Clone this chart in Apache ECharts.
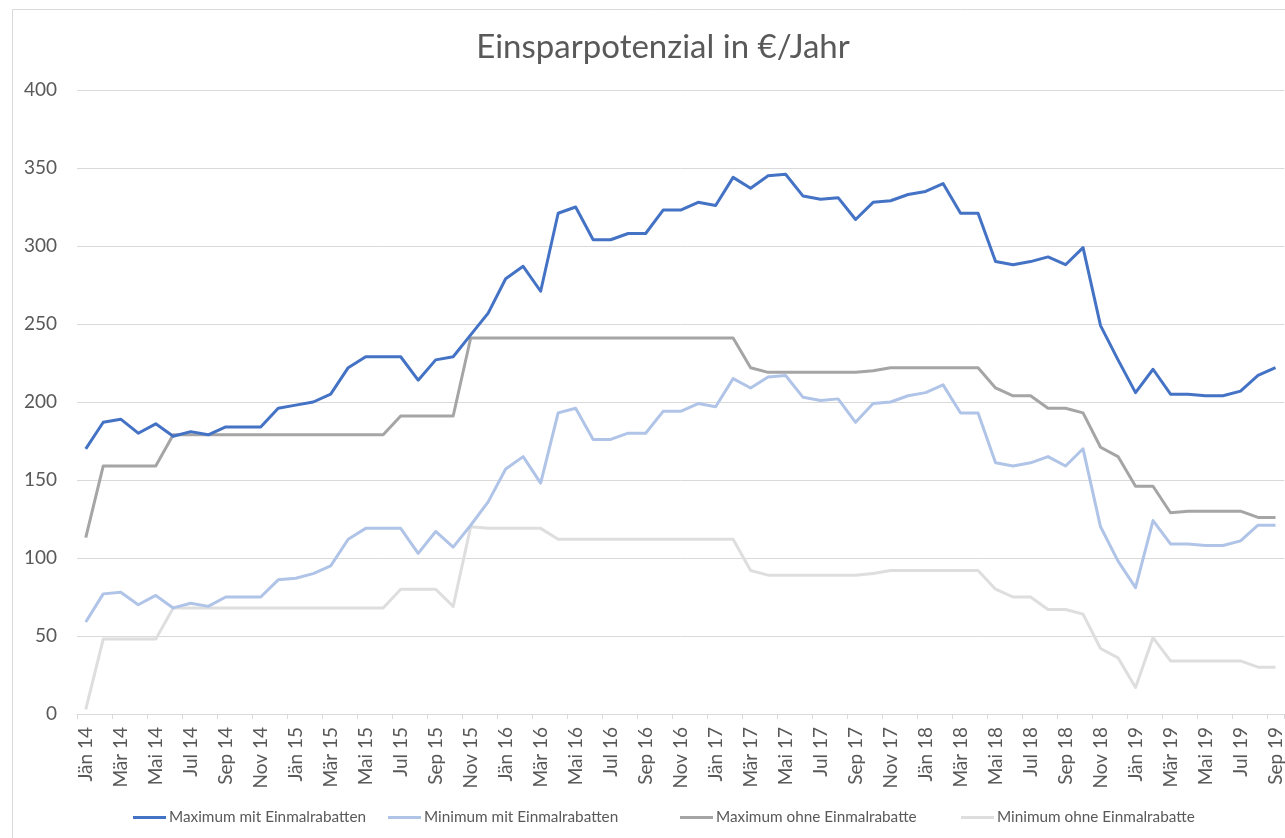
<!DOCTYPE html>
<html>
<head>
<meta charset="utf-8">
<script src="https://cdn.jsdelivr.net/npm/echarts@6/dist/echarts.min.js"></script>
<style>
  html, body { margin: 0; padding: 0; background: #fff; }
  #main { width: 1285px; height: 838px; }
</style>
</head>
<body>
<div id="main"></div>
<script>
// Monate Jän 14 .. Sep 19
var monthNames = ['Jän', 'Feb', 'Mär', 'Apr', 'Mai', 'Jun', 'Jul', 'Aug', 'Sep', 'Okt', 'Nov', 'Dez'];
var years = ['14', '15', '16', '17', '18', '19'];
var categories = [];
for (var y = 0; y < years.length; y++) {
    for (var m = 0; m < 12; m++) {
        if (y === 5 && m > 8) break;
        categories.push(monthNames[m] + ' ' + years[y]);
    }
}

var maxMit = [170, 187, 189, 180, 186, 178, 181, 179, 184, 184, 184, 196,
              198, 200, 205, 222, 229, 229, 229, 214, 227, 229, 243, 257,
              279, 287, 271, 321, 325, 304, 304, 308, 308, 323, 323, 328,
              326, 344, 337, 345, 346, 332, 330, 331, 317, 328, 329, 333,
              335, 340, 321, 321, 290, 288, 290, 293, 288, 299, 249, 227,
              206, 221, 205, 205, 204, 204, 207, 217, 222];

var minMit = [59, 77, 78, 70, 76, 68, 71, 69, 75, 75, 75, 86,
              87, 90, 95, 112, 119, 119, 119, 103, 117, 107, 121, 136,
              157, 165, 148, 193, 196, 176, 176, 180, 180, 194, 194, 199,
              197, 215, 209, 216, 217, 203, 201, 202, 187, 199, 200, 204,
              206, 211, 193, 193, 161, 159, 161, 165, 159, 170, 120, 98,
              81, 124, 109, 109, 108, 108, 111, 121, 121];

var maxOhne = [113, 159, 159, 159, 159, 179, 179, 179, 179, 179, 179, 179,
               179, 179, 179, 179, 179, 179, 191, 191, 191, 191, 241, 241,
               241, 241, 241, 241, 241, 241, 241, 241, 241, 241, 241, 241,
               241, 241, 222, 219, 219, 219, 219, 219, 219, 220, 222, 222,
               222, 222, 222, 222, 209, 204, 204, 196, 196, 193, 171, 165,
               146, 146, 129, 130, 130, 130, 130, 126, 126];

var minOhne = [3, 48, 48, 48, 48, 68, 68, 68, 68, 68, 68, 68,
               68, 68, 68, 68, 68, 68, 80, 80, 80, 69, 120, 119,
               119, 119, 119, 112, 112, 112, 112, 112, 112, 112, 112, 112,
               112, 112, 92, 89, 89, 89, 89, 89, 89, 90, 92, 92,
               92, 92, 92, 92, 80, 75, 75, 67, 67, 64, 42, 36,
               17, 49, 34, 34, 34, 34, 34, 30, 30];

var seriesNames = ['Maximum mit Einmalrabatten', 'Minimum mit Einmalrabatten',
                   'Maximum ohne Einmalrabatte', 'Minimum ohne Einmalrabatte'];
var seriesColors = ['#4472c4', '#b0c4e8', '#a5a5a5', '#dedede'];
var seriesData = [maxMit, minMit, maxOhne, minOhne];

var font = 'Lato, "Open Sans", sans-serif';
var textColor = '#595959';

var chart = echarts.init(document.getElementById('main'));

var series = [];
for (var i = 0; i < seriesNames.length; i++) {
    series.push({
        name: seriesNames[i],
        type: 'line',
        data: seriesData[i],
        symbol: 'none',
        z: 10 - i,
        lineStyle: { width: 3, color: seriesColors[i], join: 'round' },
        itemStyle: { color: seriesColors[i] }
    });
}

// Legende wie in Excel: jede Position einzeln
var legendLeft = [133, 388, 680, 961];
var legends = [];
for (var k = 0; k < seriesNames.length; k++) {
    legends.push({
        left: legendLeft[k],
        top: 810,
        padding: 0,
        itemWidth: 33,
        itemHeight: 3,
        icon: 'rect',
        data: [seriesNames[k]],
        textStyle: { fontFamily: font, fontSize: 15.3, color: textColor, padding: [0, 0, 0, -2] }
    });
}

var option = {
    backgroundColor: '#fff',
    animation: false,
    textStyle: { fontFamily: font },
    title: {
        text: 'Einsparpotenzial in €/Jahr',
        left: 658,
        top: 26,
        textAlign: 'center',
        textStyle: { fontFamily: font, fontSize: 33, fontWeight: 'normal', color: textColor }
    },
    legend: legends,
    grid: { left: 77, right: 0, top: 90, bottom: 124, containLabel: false },
    xAxis: {
        type: 'category',
        boundaryGap: true,
        data: categories,
        axisLine: { lineStyle: { color: '#d9d9d9', width: 1 } },
        axisTick: { show: true, interval: 1, length: 5, lineStyle: { color: '#d9d9d9' } },
        axisLabel: {
            interval: 1,
            rotate: 90,
            margin: 13,
            fontFamily: font,
            fontSize: 19,
            color: textColor
        },
        splitLine: { show: false }
    },
    yAxis: {
        type: 'value',
        min: 0,
        max: 400,
        interval: 50,
        axisLine: { show: false },
        axisTick: { show: false },
        axisLabel: { margin: 20, fontFamily: font, fontSize: 19, color: textColor },
        splitLine: { lineStyle: { color: '#d9d9d9', width: 1 } }
    },
    graphic: [{
        type: 'rect',
        shape: { x: 12.5, y: 9.5, width: 1320, height: 900 },
        style: { fill: 'none', stroke: '#d9d9d9', lineWidth: 1 },
        silent: true,
        z: -10
    }],
    series: series
};

chart.setOption(option);
window.onresize = chart.resize;
</script>
</body>
</html>
